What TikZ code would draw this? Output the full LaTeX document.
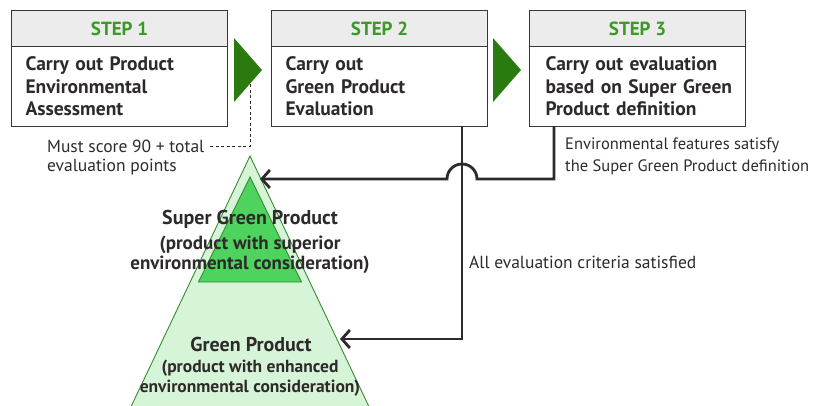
\documentclass[tikz,border=0pt]{standalone}
\usepackage{fontspec}
\setmainfont{PT Sans}
\usetikzlibrary{arrows.meta}
\definecolor{txt}{HTML}{2E2A2A}
\definecolor{stepgreen}{HTML}{3A9A24}
\definecolor{arrowgreen}{HTML}{2A7A10}
\definecolor{headgrey}{HTML}{ECECEC}
\definecolor{boxline}{HTML}{3A3434}
\definecolor{outerfill}{HTML}{D6F4D8}
\definecolor{innerfill}{HTML}{4ED35E}
\definecolor{triline}{HTML}{3A8A30}
\tikzset{
  stephead/.style={draw=boxline, line width=1.1pt, fill=headgrey, minimum width=216pt, minimum height=36pt,
    anchor=north west, inner sep=0pt, font=\fontsize{19}{20}\selectfont\bfseries, text=stepgreen},
  stepbody/.style={draw=boxline, line width=1.1pt, fill=white, minimum width=216pt, minimum height=80pt,
    anchor=north west, inner xsep=14pt, inner ysep=0pt, text width=188pt, align=left,
    font=\fontsize{19.5}{22.5}\selectfont\bfseries, text=txt},
  nextarrow/.style={fill=arrowgreen},
  conn/.style={draw=txt, line width=2.8pt, line join=miter},
  tip/.style={-{Straight Barb[length=8pt,width=18pt]}},
  note/.style={font=\fontsize{17.5}{21}\selectfont, text=txt, align=left, inner sep=0pt},
  envnote/.style={font=\fontsize{16.5}{21}\selectfont, text=txt, align=left, inner sep=0pt},
  trilabel/.style={font=\fontsize{20}{22}\selectfont\bfseries, text=txt, align=center, inner sep=0pt},
  trisub/.style={font=\fontsize{19}{21}\selectfont\bfseries, text=txt, align=center, inner sep=0pt},
  trisubb/.style={font=\fontsize{17.5}{20}\selectfont\bfseries, text=txt, align=center, inner sep=0pt},
}
\begin{document}
\begin{tikzpicture}[x=1pt,y=-1pt]
\useasboundingbox (0,0) rectangle (814,405);
% pyramid
\draw[triline, line width=0.9pt, fill=outerfill] (128.5,412) -- (250,156) -- (371.5,412);
\draw[triline, line width=0.9pt, fill=innerfill] (198.5,282) -- (250,177) -- (301.5,282) -- cycle;
% step boxes
\node[stephead] (h1) at (11,10) {STEP 1};
\node[stepbody] (b1) at (11,46) {Carry out Product\\Environmental\\Assessment};
\node[stephead] (h2) at (271,10) {STEP 2};
\node[stepbody] (b2) at (271,46) {Carry out\\Green Product\\Evaluation};
\node[stephead] (h3) at (529,10) {STEP 3};
\node[stepbody, inner xsep=16pt, text width=184pt] (b3) at (529,46) {\mbox{Carry out evaluation}\\\mbox{based on Super Green}\\\mbox{Product definition}};
% green arrows
\fill[nextarrow] (234,38) -- (262,70) -- (234,102) -- cycle;
\fill[nextarrow] (493,38) -- (521,70) -- (493,102) -- cycle;
% dashed note
\coordinate (dtop) at (250,84);
\coordinate (dcorner) at (250,146);
\node[note, anchor=west] (must) at (47,146) {Must score 90 + total};
\node[note, anchor=west] (mustb) at (47,167) {evaluation points};
\draw[txt, line width=0.9pt, dash pattern=on 3pt off 2.5pt] (dtop) -- (dcorner) -- ([xshift=4pt]must.east);
% connectors
\coordinate (s2) at (462,126);
\coordinate (c2) at (462,339);
\coordinate (e2) at (340,339);
\draw[conn, tip] (s2) -- (c2) -- (e2);
\coordinate (s3) at (554,126);
\coordinate (c3) at (554,179);
\coordinate (e3) at (260,179);
\draw[conn, tip] (s3) -- (c3) -- (477,179) arc[start angle=0, end angle=-180, radius=15] -- (e3);
% labels
\node[envnote, anchor=west] (env) at (565,145) {Environmental features satisfy};
\node[envnote, anchor=west] (envb) at (565,167) {the Super Green Product definition};
\node[note, anchor=west] (all) at (469,262) {All evaluation criteria satisfied};
\node[trilabel] (sgp) at (250,219) {Super Green Product};
\node[trisub] (sgpa) at (250,245) {(product with superior};
\node[trisub] (sgpb) at (250,265) {environmental consideration)};
\node[trilabel] (gp) at (251,344) {Green Product};
\node[trisubb] (gpa) at (250,368) {(product with enhanced};
\node[trisubb] (gpb) at (250,388) {environmental consideration)};
\end{tikzpicture}
\end{document}
